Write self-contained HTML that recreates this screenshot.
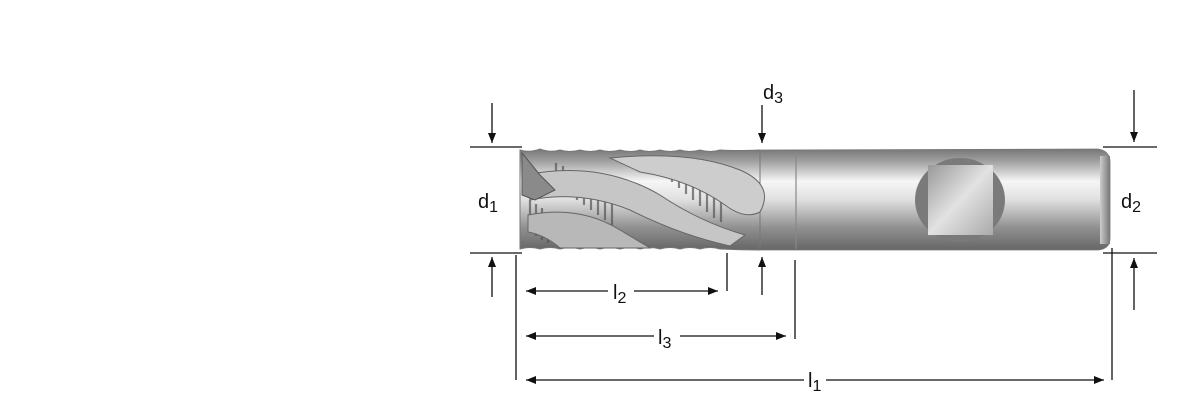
<!DOCTYPE html>
<html><head><meta charset="utf-8"><style>
html,body{margin:0;padding:0;background:#fff;}
svg{display:block}
text{font-family:"Liberation Sans",Arial,sans-serif;fill:#111}
</style></head><body>
<svg width="1200" height="400" viewBox="0 0 1200 400" xmlns="http://www.w3.org/2000/svg">
<defs>
<linearGradient id="cyl" x1="0" y1="0" x2="0" y2="1">
<stop offset="0" stop-color="#777"/><stop offset="0.12" stop-color="#a0a0a0"/>
<stop offset="0.32" stop-color="#f6f6f6"/><stop offset="0.5" stop-color="#e0e0e0"/>
<stop offset="0.78" stop-color="#909090"/><stop offset="1" stop-color="#666"/>
</linearGradient>
<linearGradient id="flat" x1="0" y1="0" x2="1" y2="1">
<stop offset="0" stop-color="#999"/><stop offset="0.5" stop-color="#e2e2e2"/><stop offset="1" stop-color="#aaa"/>
</linearGradient>
<linearGradient id="endg" x1="0" y1="0" x2="1" y2="0">
<stop offset="0" stop-color="#ccc"/><stop offset="1" stop-color="#777"/>
</linearGradient>
<marker id="ah" markerWidth="10" markerHeight="8" refX="10" refY="4" orient="auto" markerUnits="userSpaceOnUse">
<path d="M0,0 L10,4 L0,8 z" fill="#111"/></marker>
</defs>

<path d="M760,150 L1098,149 Q1110,151 1110,162 L1110,238 Q1110,249 1098,250 L760,250 Z" fill="url(#cyl)" stroke="#777" stroke-width="0.8"/>
<rect x="1100" y="156" width="10" height="88" fill="url(#endg)"/>
<line x1="796" y1="151" x2="796" y2="249" stroke="#888" stroke-width="1.2"/>
<ellipse cx="960" cy="200" rx="45" ry="42" fill="#7a7a7a"/>
<rect x="928" y="165" width="65" height="70" fill="url(#flat)"/>

<path d="M520,150 Q530,153 540,149 Q550,153 560,150 Q570,153 580,150 Q590,153 600,150 Q610,153 620,150 Q630,153 640,150 Q650,153 660,150 Q670,153 680,150 Q690,153 700,150 Q710,153 720,150 Q735,151 760,150 L760,250 Q740,250 720,249 Q710,246 700,249 Q690,246 680,249 Q670,246 660,249 Q650,246 640,249 Q630,246 620,249 Q610,246 600,249 Q590,246 580,249 Q570,246 560,249 Q550,246 540,249 Q530,246 520,249 Z" fill="url(#cyl)" stroke="#777" stroke-width="1"/>
<g stroke="#555" stroke-width="2.2" opacity="0.7">
<line x1="556" y1="163" x2="556" y2="185"/><line x1="563" y1="166" x2="563" y2="190"/><line x1="570" y1="170" x2="570" y2="195"/><line x1="577" y1="173" x2="577" y2="200"/><line x1="584" y1="177" x2="584" y2="205"/><line x1="591" y1="181" x2="591" y2="210"/><line x1="598" y1="185" x2="598" y2="215"/><line x1="605" y1="189" x2="605" y2="220"/><line x1="612" y1="193" x2="612" y2="225"/>
<line x1="672" y1="160" x2="672" y2="182"/><line x1="679" y1="163" x2="679" y2="188"/><line x1="686" y1="167" x2="686" y2="194"/><line x1="693" y1="171" x2="693" y2="200"/><line x1="700" y1="175" x2="700" y2="206"/><line x1="707" y1="179" x2="707" y2="212"/><line x1="714" y1="183" x2="714" y2="218"/><line x1="721" y1="187" x2="721" y2="222"/>
<line x1="530" y1="200" x2="530" y2="232"/><line x1="536" y1="204" x2="536" y2="236"/><line x1="542" y1="208" x2="542" y2="240"/><line x1="548" y1="212" x2="548" y2="243"/>
</g>
<path d="M525,175 Q600,160 660,195 Q700,222 745,235 L730,246 Q680,235 630,210 Q580,190 530,200 Z" fill="#c6c6c6" stroke="#666" stroke-width="1"/>
<path d="M610,158 Q690,150 740,170 Q775,185 760,212 Q745,220 725,205 Q690,180 640,172 Z" fill="#cdcdcd" stroke="#666" stroke-width="1"/>
<path d="M528,215 Q580,205 620,230 Q640,242 650,248 L560,248 Q545,235 528,232 Z" fill="#b8b8b8" stroke="#666" stroke-width="1"/>
<path d="M522,153 L540,175 L555,190 L535,200 L522,195 Z" fill="#8a8a8a" stroke="#555" stroke-width="1"/>

<g stroke="#111" stroke-width="1.3" fill="none">
<line x1="470" y1="147" x2="522" y2="147"/>
<line x1="470" y1="253" x2="522" y2="253"/>
<line x1="492" y1="103" x2="492" y2="143" marker-end="url(#ah)"/>
<line x1="492" y1="297" x2="492" y2="257" marker-end="url(#ah)"/>
<line x1="762" y1="105" x2="762" y2="143" marker-end="url(#ah)"/>
<line x1="762" y1="295" x2="762" y2="257" marker-end="url(#ah)"/>
<line x1="516" y1="255" x2="516" y2="380"/>
<line x1="727" y1="253" x2="727" y2="291"/>
<line x1="795" y1="260" x2="795" y2="339"/>
<line x1="1112" y1="248" x2="1112" y2="380"/>
<line x1="1103" y1="147" x2="1157" y2="147"/>
<line x1="1103" y1="253" x2="1157" y2="253"/>
<line x1="1134" y1="90" x2="1134" y2="142" marker-end="url(#ah)"/>
<line x1="1134" y1="310" x2="1134" y2="258" marker-end="url(#ah)"/>
<line x1="608" y1="291" x2="526" y2="291" marker-end="url(#ah)"/>
<line x1="634" y1="291" x2="718" y2="291" marker-end="url(#ah)"/>
<line x1="654" y1="336" x2="526" y2="336" marker-end="url(#ah)"/>
<line x1="680" y1="336" x2="786" y2="336" marker-end="url(#ah)"/>
<line x1="804" y1="380" x2="526" y2="380" marker-end="url(#ah)"/>
<line x1="826" y1="380" x2="1104" y2="380" marker-end="url(#ah)"/>
</g>
<text x="478" y="208" font-size="20">d<tspan font-size="16" dy="4">1</tspan></text>
<text x="763" y="99" font-size="20">d<tspan font-size="16" dy="4">3</tspan></text>
<text x="1121" y="208" font-size="20">d<tspan font-size="16" dy="4">2</tspan></text>
<text x="613" y="299" font-size="20">l<tspan font-size="16" dy="4">2</tspan></text>
<text x="658" y="344" font-size="20">l<tspan font-size="16" dy="4">3</tspan></text>
<text x="808" y="387" font-size="20">l<tspan font-size="16" dy="4">1</tspan></text>
</svg>
</body></html>
